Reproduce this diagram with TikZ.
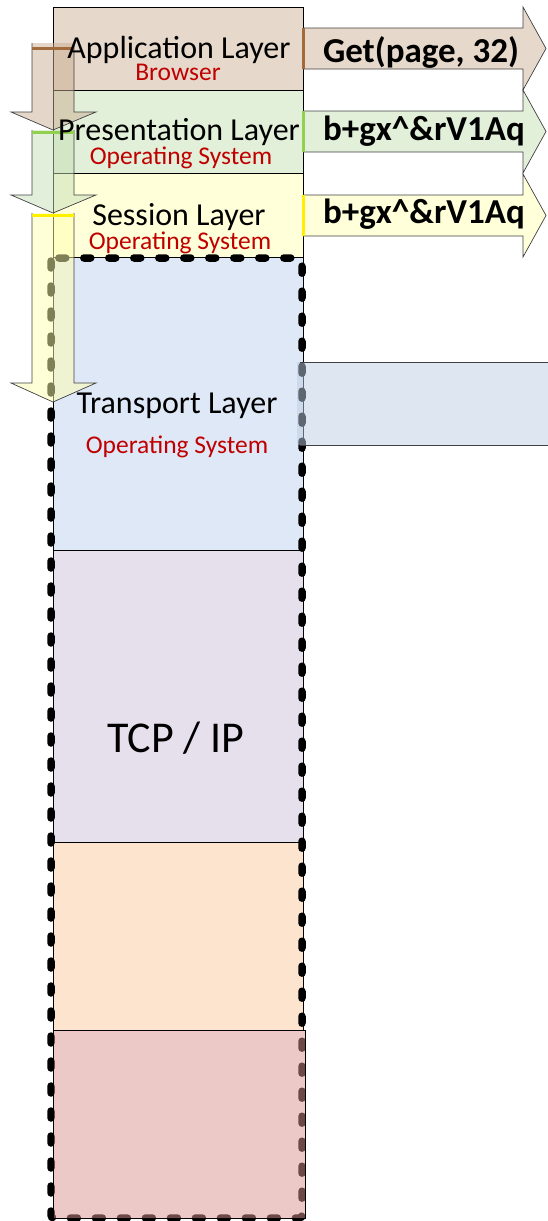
\documentclass[tikz,border=0pt]{standalone}
\usepackage{fontspec}
\setmainfont{Carlito}
\usetikzlibrary{positioning}

\definecolor{appfill}{RGB}{230,216,203}
\definecolor{presfill}{RGB}{226,240,217}
\definecolor{sessfill}{RGB}{255,255,218}
\definecolor{transfill}{RGB}{223,232,247}
\definecolor{tcpfill}{RGB}{229,224,236}
\definecolor{linkfill}{RGB}{252,228,206}
\definecolor{physfill}{RGB}{217,147,141}
\definecolor{segfill}{RGB}{189,205,227}
\definecolor{appdown}{RGB}{201,173,145}
\definecolor{presdown}{RGB}{197,223,181}
\definecolor{sessdown}{RGB}{255,255,175}
\definecolor{appbar}{RGB}{163,106,60}
\definecolor{presbar}{RGB}{146,208,80}
\definecolor{sessbar}{RGB}{255,240,0}
\definecolor{arrowline}{RGB}{64,64,64}
\definecolor{hostred}{RGB}{192,0,0}

\begin{document}
\begin{tikzpicture}[
x = 1pt, y = -1pt,
every node/.style = {
	inner sep = 0pt,
	outer sep = 0pt
},
layer/.style = {
	draw,
	line width = .7pt,
	anchor = north west,
	minimum width = 250pt
},
title/.style = {
	anchor = base,
	font = \fontsize{32}{38}\selectfont
},
host/.style = {
	anchor = base,
	text = hostred,
	font = \fontsize{25.5}{30}\selectfont
},
payload/.style = {
	anchor = base,
	font = \fontsize{35}{40}\selectfont\bfseries
},
blockarrow/.style = {
	draw = arrowline,
	line width = .7pt,
	line join = miter
},
edgebar/.style = {
	line width = 3pt
}
]

\useasboundingbox (0,0) rectangle (548,1221);

% layer stack
\node (app) [layer, fill=appfill, minimum height=83pt] at (53,7) {};
\node (pres) [layer, fill=presfill, minimum height=83pt] at (53,90) {};
\node (sess) [layer, fill=sessfill, minimum height=84pt] at (53,173) {};
\node (trans) [layer, fill=transfill, minimum height=293pt] at (53,257) {};
\node (tcp) [layer, fill=tcpfill, minimum height=292pt] at (53,550) {};
\node (link) [layer, fill=linkfill, minimum height=188pt] at (53,842) {};

% dashed frame
\draw[line width = 7.5pt, dash pattern = on 7pt off 18pt, line cap = round, rounded corners = 3pt]
	(51,258) rectangle (302,1218);

% arrows going down
\foreach \top/\base/\tip/\col in {43/112/130/appdown, 130/195/213/presdown, 213/383/402/sessdown}
	\filldraw[blockarrow, fill=\col, fill opacity=.5]
		(32,\top) -- (32,\base) -- (11,\base) -- (53,\tip) -- (96,\base) -- (74,\base) -- (74,\top);
\draw[edgebar, appbar] (32,48) -- (74,48);
\draw[edgebar, presbar] (32,132) -- (74,132);
\draw[edgebar, sessbar] (32,215) -- (74,215);

\node (phys) [layer, fill=physfill, fill opacity=.5, minimum width=252pt, minimum height=188pt] at (53,1030) {};

% segment leaving the transport layer
\node (seg) [anchor=north west, fill=segfill, fill opacity=.5, minimum width=251pt, minimum height=83pt] at (297,362) {};
\draw[arrowline, line width=.7pt] (seg.north west) ++(3,0) -- (seg.north east);
\draw[arrowline, line width=.7pt] (seg.south west) ++(3,0) -- (seg.south east);

% arrows going right
\foreach \t/\col in {7/appfill, 90/presfill, 174/sessfill}
	\filldraw[blockarrow, fill=\col]
		(303,\t+21) -- (523,\t+21) -- (523,\t) -- (546,\t+41.5) -- (523,\t+83) -- (523,\t+62) -- (303,\t+62);
\draw[edgebar, appbar] (303.5,28) -- (303.5,69);
\draw[edgebar, presbar] (303.5,111) -- (303.5,152);
\draw[edgebar, sessbar] (303.5,195) -- (303.5,236);

% texts
\node (app_t) [title] at (179,58) {Application Layer};
\node (app_h) [host] at (178,80) {Browser};
\node (pres_t) [title] at (179,140) {Presentation Layer};
\node (pres_h) [host] at (181,164) {Operating System};
\node (sess_t) [title] at (179,225) {Session Layer};
\node (sess_h) [host] at (180,249) {Operating System};
\node (trans_t) [title] at (177,413) {Transport Layer};
\node (trans_h) [host] at (177,453) {Operating System};
\node (tcp_t) [title, font=\fontsize{44}{52}\selectfont] at (176,752) {TCP / IP};

\node (msg_app) [payload] at (421,62) {Get(page, 32)};
\node (msg_pres) [payload] at (424,140) {b+gx\textasciicircum\&rV1Aq};
\node (msg_sess) [payload] at (424,223) {b+gx\textasciicircum\&rV1Aq};

\end{tikzpicture}
\end{document}
